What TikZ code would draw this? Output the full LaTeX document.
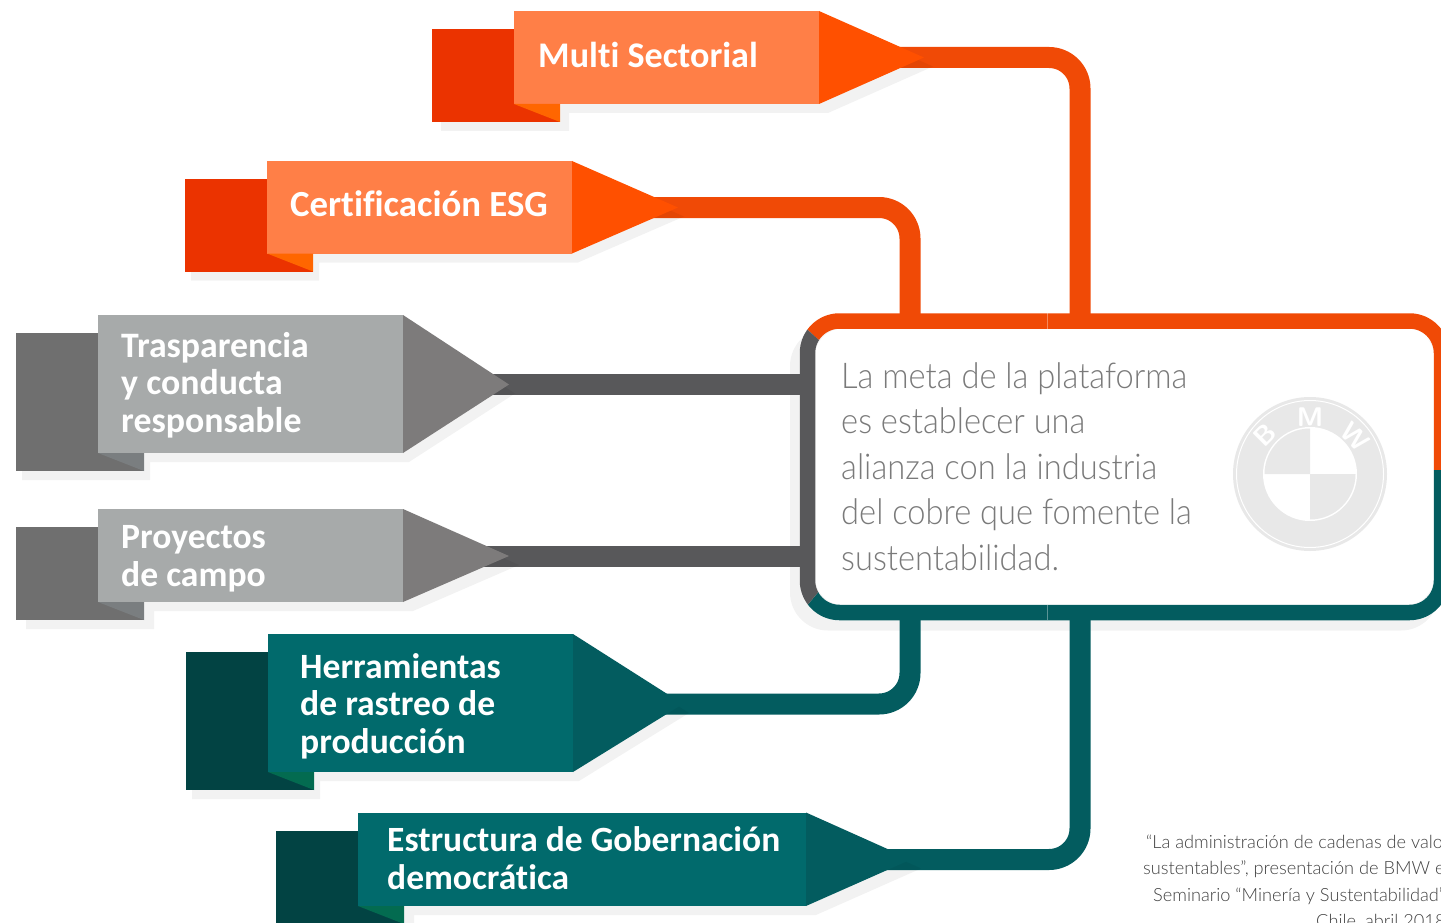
\documentclass[tikz,border=0pt]{standalone}
\usepackage{fontspec}
\usetikzlibrary{fit,calc}
\setmainfont[Ligatures=NoCommon]{Carlito}
\newfontfamily\lightface[FakeStretch=0.92]{Lato Light}
\newfontfamily\creditface{Lato Light}
\definecolor{orFront}{HTML}{FF7F47}
\definecolor{orTri}{HTML}{FF5000}
\definecolor{orBack}{HTML}{EB3300}
\definecolor{orFold}{HTML}{FF6600}
\definecolor{orLine}{HTML}{F04A06}
\definecolor{grFront}{HTML}{A7AAAA}
\definecolor{grTri}{HTML}{7D7B7B}
\definecolor{grBack}{HTML}{6F6F6F}
\definecolor{grFold}{HTML}{7A7E80}
\definecolor{grLine}{HTML}{58585A}
\definecolor{teFront}{HTML}{016A6C}
\definecolor{teTri}{HTML}{035C5F}
\definecolor{teBack}{HTML}{024343}
\definecolor{teFold}{HTML}{036B50}
\definecolor{teLine}{HTML}{035C5F}
\definecolor{logoGrey}{HTML}{E8E8E8}
\pgfdeclarelayer{hubshade}
\pgfdeclarelayer{wires}
\pgfdeclarelayer{shade}
\pgfsetlayers{hubshade,wires,shade,main}
\tikzset{
  x=1pt,y=-1pt,
  frontbox/.style={rectangle,inner sep=0pt,outer sep=0pt,fit={#1}},
  wire/.style={line width=21pt,rounded corners=31pt},
  shadowfill/.style={fill=black,fill opacity=0.05},
  label/.style={anchor=base west,align=left,inner sep=0pt,text=white,font=\bfseries\fontsize{#1}{37.5}\selectfont},
  bodytext/.style={anchor=base west,align=left,inner sep=0pt,text=black!52,font=\lightface\fontsize{35.5}{45.5}\selectfont},
  credit/.style={anchor=base west,inner sep=0pt,text=black!75,font=\creditface\fontsize{18.2}{20}\selectfont},
  logoletter/.style={inner sep=0pt,text=white,font=\sffamily\bfseries\fontsize{27}{27}\selectfont}
}
% #1 name  #2 back left  #3 front left  #4 fold right  #5 front right  #6 top  #7 bottom  #8 tip x  #9 tip y
\newcommand{\banner}[9]{%
  \fill[\bkcol] (#2,#6+18) rectangle (#4,#7+18);
  \node[frontbox={(#3,#6) (#5,#7)},fill=\frcol] (#1) {};
  \fill[\fdcol] (#3,#7) -- (#4,#7) -- (#4,#7+18) -- cycle;
  \coordinate (#1tip) at (#8,#9);
  \coordinate (#1root) at (#5+40,#9);
  \fill[\trcol] (#5,#6) -- (#1tip) -- (#5,#7) -- cycle;
  \begin{pgfonlayer}{shade}
    \fill[shadowfill] (#2+\sdx,#6+18+9) -- (#3+\sdx,#6+18+9) -- (#3+\sdx,#6+9) -- (#5+\sdx,#6+9)
      -- (#8+\sdx,#9+9) -- (#5+\sdx,#7+9) -- (#4+\sdx,#7+9) -- (#4+\sdx,#7+18+9) -- (#2+\sdx,#7+18+9) -- cycle;
  \end{pgfonlayer}
}
\begin{document}
\begin{tikzpicture}
\useasboundingbox (0,0) rectangle (1441,923);
\clip (0,0) rectangle (1441,923);

% ---- banners
\def\bkcol{orBack}\def\frcol{orFront}\def\fdcol{orFold}\def\trcol{orTri}
\def\sdx{9}
\banner{mult}{432}{514}{560}{819}{11}{104}{924}{57.5}
\def\sdx{6}
\banner{cert}{185}{267}{313}{572}{161}{253.5}{678}{207.5}
\def\bkcol{grBack}\def\frcol{grFront}\def\fdcol{grFold}\def\trcol{grTri}
\banner{tras}{16}{98}{144}{403}{315}{453}{509}{384.5}
\def\sdx{10}
\banner{proy}{16}{98}{144}{403}{509}{602}{509}{556}
\def\bkcol{teBack}\def\frcol{teFront}\def\fdcol{teFold}\def\trcol{teTri}
\def\sdx{6}
\banner{herr}{186}{268}{314}{573}{634}{772}{683}{704}
\def\sdx{10}
\banner{estr}{276}{358}{404}{806}{812.5}{906}{911}{859.5}

% ---- labels
\node[label=36.1] (lmult) at (538,68) {Multi Sectorial};
\node[label=36.8] (lcert) at (290,216) {Certificación ESG};
\node[label=35.8] (ltras) at (121,432) {Trasparencia\\y conducta\\responsable};
\node[label=35.6] (lproy) at (121,586) {Proyectos\\de campo};
\node[label=35.6] (lherr) at (300,753) {Herramientas\\de rastreo de\\producción};
\node[label=35.5] (lestr) at (387,889) {Estructura de Gobernación\\democrática};

% ---- hub
\node[frontbox={(807.5,321) (1441.5,612.5)}] (hub) {};
\fill[white,rounded corners=28pt] (815,328.5) rectangle (1434,605);
\begin{pgfonlayer}{hubshade}
  \fill[shadowfill,rounded corners=38pt] ($(hub.north west)+(-17.5,7)$) rectangle ($(hub.south east)+(-2.5,18)$);
\end{pgfonlayer}
\begin{scope}
  \clip (793.5,317) -- (793.5,300) -- (1460,300) -- (1460,470) -- (1000,470) -- (821,342) -- cycle;
  \draw[orLine,line width=15.5pt,rounded corners=32pt] (hub.north west) rectangle (hub.south east);
\end{scope}
\begin{scope}
  \clip (820,590) -- (790,626) -- (790,640) -- (1460,640) -- (1460,470) -- (1000,470) -- cycle;
  \draw[teLine,line width=15.5pt,rounded corners=32pt] (hub.north west) rectangle (hub.south east);
\end{scope}
\begin{scope}
  \clip (793.5,317) -- (821,342) -- (1000,470) -- (820,590) -- (790,626) -- (780,626) -- (780,317) -- cycle;
  \draw[grLine,line width=15.5pt,rounded corners=32pt] (hub.north west) rectangle (hub.south east);
\end{scope}
\draw[white,opacity=0.35,line width=0.5pt] (1047.5,313) -- (1047.5,329) (1047.5,604.5) -- (1047.5,620);

% ---- wires
\begin{pgfonlayer}{wires}
  \coordinate (bendA) at (1080,57.5);
  \coordinate (bendB) at (910,207.5);
  \coordinate (bendC) at (910,704);
  \coordinate (bendD) at (1080,859.5);
  \draw[wire,orLine] (multroot) -- (bendA) -- (bendA |- hub.north);
  \draw[wire,orLine] (certroot) -- (bendB) -- (bendB |- hub.north);
  \draw[wire,grLine] (trasroot) -- (trasroot -| hub.west);
  \draw[wire,grLine] (proyroot) -- (proyroot -| hub.west);
  \draw[wire,teLine] (herrroot) -- (bendC) -- (bendC |- hub.south);
  \draw[wire,teLine] (estrroot) -- (bendD) -- (bendD |- hub.south);
\end{pgfonlayer}

% ---- text in hub
\node[bodytext] (goal) at (841,570) {La meta de la plataforma\\es establecer una\\alianza con la industria\\del cobre que fomente la\\sustentabilidad.};

% ---- logo
\coordinate (logoc) at (1310,474);
\fill[logoGrey] (logoc) circle (77);
\draw[white,line width=1pt] (logoc) circle (73.5);
\fill[white] (logoc) circle (47);
\fill[logoGrey] (logoc) -- +(-45.5,0) arc[start angle=180,end angle=270,radius=45.5] -- cycle;
\fill[logoGrey] (logoc) -- +(45.5,0) arc[start angle=0,end angle=90,radius=45.5] -- cycle;
\node[logoletter,rotate=45] (logoB) at (1265,435) {B};
\node[logoletter] (logoM) at (1310,417) {M};
\node[logoletter,rotate=-45] (logoW) at (1355,437) {W};

% ---- credit
\node[credit] (c1) at (1146,848) {“La administración de cadenas de valor};
\node[credit] (c2) at (1143,874) {sustentables”, presentación de BMW en};
\node[credit] (c3) at (1153,901) {Seminario “Minería y Sustentabilidad”,};
\node[credit] (c4) at (1316,927) {Chile, abril 2018.};
\end{tikzpicture}
\end{document}
